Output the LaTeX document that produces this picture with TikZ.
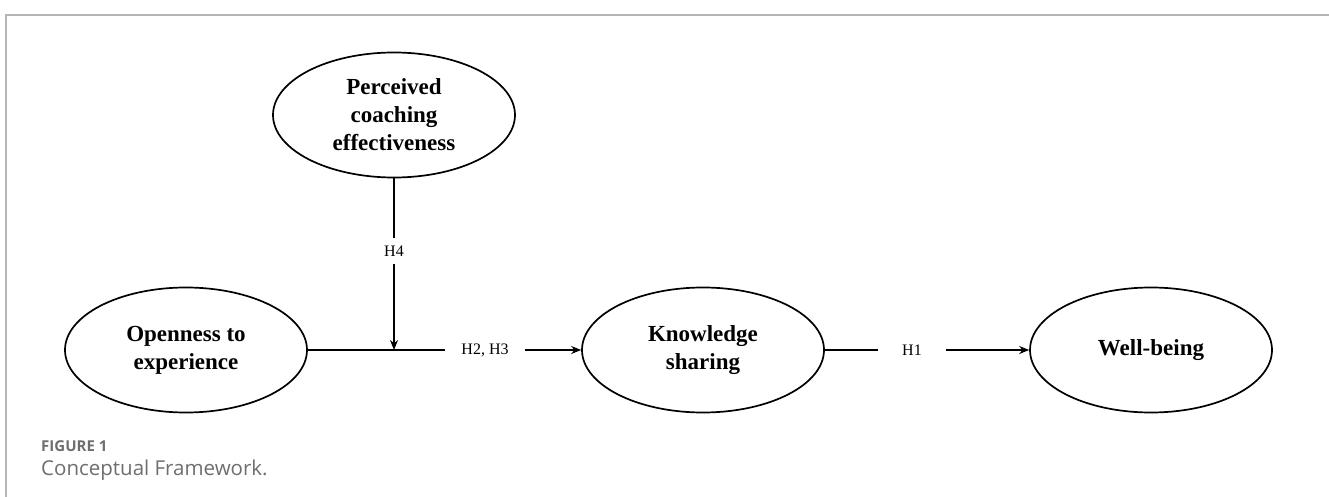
\documentclass[tikz,border=0pt]{standalone}
\usepackage{fontspec}
\setmainfont{Liberation Serif}
\newfontfamily\capfont{Open Sans}
\usetikzlibrary{shapes.geometric,arrows.meta}
\definecolor{framec}{HTML}{B5B5B5}
\definecolor{capc}{HTML}{6E6E6E}
\begin{document}
\begin{tikzpicture}[x=1pt,y=-1pt,
  construct/.style={ellipse,draw=black,line width=1.7pt,minimum width=242pt,minimum height=125pt,inner sep=0pt,align=center,font=\fontsize{23}{28}\selectfont\bfseries},
  hlabel/.style={font=\fontsize{16}{19}\selectfont,inner sep=0pt},
  conn/.style={line width=1.7pt,black},
  arr/.style={conn,-{Stealth[length=10pt,width=8pt]}}]
\useasboundingbox (0,0) rectangle (1329,497);
\draw[framec,line width=2pt] (5,15) -- (1329,15);
\draw[framec,line width=2pt] (6,15) -- (6,497);
\node[construct] (per) at (394,115) {Perceived\\coaching\\effectiveness};
\node[construct] (ope) at (186,350) {Openness to\\experience};
\node[construct] (kno) at (703,350) {Knowledge\\sharing};
\node[construct] (wel) at (1151,350) {Well-being};
\coordinate (j) at (394,350);
\node[hlabel,inner ysep=8pt] (h4) at (394,251) {H4};
\node[hlabel,inner xsep=16pt] (h23) at (485,350) {H2, H3};
\node[hlabel,inner xsep=24pt] (h1) at (912,350) {H1};
\draw[conn] (per.south) -- (h4.north);
\draw[arr] (h4.south) -- (j);
\draw[conn] (ope.east) -- (h23.west);
\draw[arr] (h23.east) -- (kno.west);
\draw[conn] (kno.east) -- (h1.west);
\draw[arr] (h1.east) -- (wel.west);
\node[anchor=base west,inner sep=0pt,text=capc,font=\capfont\fontsize{15}{18}\selectfont\bfseries] (fig) at (41,451) {FIGURE 1};
\node[anchor=base west,inner sep=0pt,text=capc,font=\capfont\fontsize{20.5}{24}\selectfont] (cap) at (41,475) {Conceptual Framework.};
\end{tikzpicture}
\end{document}
